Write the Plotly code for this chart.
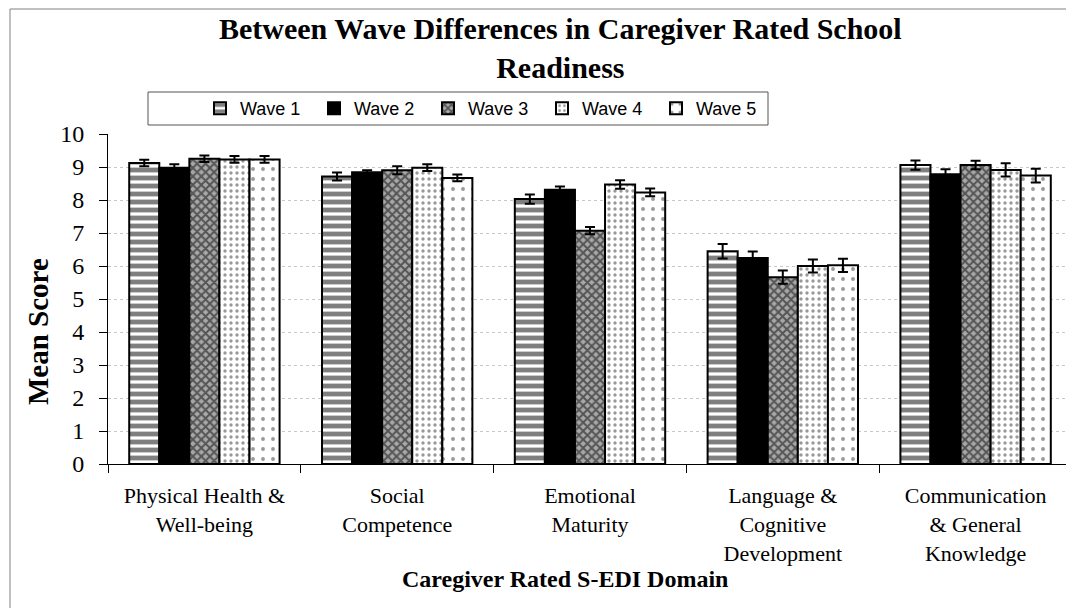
import plotly.graph_objects as go

categories = [
    "Physical Health &<br>Well-being",
    "Social<br>Competence",
    "Emotional<br>Maturity",
    "Language &<br>Cognitive<br>Development",
    "Communication<br>& General<br>Knowledge",
]
wave_names = ["Wave 1", "Wave 2", "Wave 3", "Wave 4", "Wave 5"]

wave1 = [9.12, 8.71, 8.03, 6.45, 9.06]
wave2 = [8.98, 8.84, 8.31, 6.24, 8.78]
wave3 = [9.25, 8.90, 7.07, 5.66, 9.06]
wave4 = [9.23, 8.98, 8.47, 6.00, 8.91]
wave5 = [9.23, 8.67, 8.23, 6.02, 8.74]

err1 = [0.10, 0.12, 0.14, 0.22, 0.14]
err2 = [0.10, 0.06, 0.10, 0.20, 0.15]
err3 = [0.10, 0.12, 0.11, 0.20, 0.13]
err4 = [0.10, 0.10, 0.13, 0.20, 0.20]
err5 = [0.10, 0.10, 0.12, 0.20, 0.21]

values = [wave1, wave2, wave3, wave4, wave5]
errors = [err1, err2, err3, err4, err5]

patterns = [
    dict(shape="-", fgcolor="black", bgcolor="white", size=8, solidity=0.6),
    dict(shape="", fgcolor="black", bgcolor="black"),
    dict(shape="x", fgcolor="black", bgcolor="#a8a8a8", size=6, solidity=0.55),
    dict(shape=".", fgcolor="#333333", bgcolor="white", size=6, solidity=0.25),
    dict(shape=".", fgcolor="#333333", bgcolor="white", size=10, solidity=0.12),
]
fills = ["white", "black", "#a8a8a8", "white", "white"]

fig = go.Figure()
for name, v, e, p, c in zip(wave_names, values, errors, patterns, fills):
    fig.add_trace(go.Bar(
        name=name,
        x=categories,
        y=v,
        marker=dict(color=c, pattern=p, line=dict(color="black", width=2)),
        error_y=dict(type="data", array=e, visible=True, color="black",
                     thickness=2, width=5),
    ))

W, H = 1074, 608
L, R, T, B = 100, 10, 126, 152
pw, ph = W - L - R, H - T - B

def px2x(px):
    return (px - L) / pw

def py2y(py):
    return (H - B - py) / ph

fig.update_layout(
    width=W, height=H,
    margin=dict(l=L, r=R, t=T, b=B),
    paper_bgcolor="white", plot_bgcolor="white",
    barmode="group", bargap=0.22, bargroupgap=0,
    font=dict(family="Liberation Serif", color="black", size=18),
    legend=dict(
        orientation="h",
        x=px2x(192), xanchor="left",
        y=py2y(82), yanchor="top",
        borderwidth=0, bgcolor="rgba(0,0,0,0)",
        font=dict(family="Liberation Sans", size=18, color="black"),
        itemwidth=30,
        entrywidth=69,
        traceorder="normal",
    ),
    showlegend=True,
)

fig.update_xaxes(
    showline=True, linecolor="black", linewidth=1,
    ticks="outside", ticklen=8, tickcolor="black", tickson="boundaries",
    tickfont=dict(family="Liberation Serif", size=22, color="black"),
    ticklabelstandoff=12,
    showgrid=False,
)
fig.update_yaxes(
    range=[0, 10], dtick=1, tick0=0,
    showline=True, linecolor="black", linewidth=1,
    ticks="outside", ticklen=8, tickcolor="black",
    tickfont=dict(family="Liberation Serif", size=24, color="black"),
    ticklabelstandoff=10,
    showgrid=True, gridcolor="#c8c8c8", gridwidth=1, griddash="dot",
    zeroline=False,
)

# Chart title (two lines)
fig.add_annotation(
    text="<b>Between Wave Differences in Caregiver Rated School<br>Readiness</b>",
    xref="paper", yref="paper",
    x=px2x(552), y=py2y(2), xanchor="center", yanchor="top",
    showarrow=False, align="center",
    font=dict(family="Liberation Serif", size=30, color="black"),
)

# Y axis title
fig.add_annotation(
    text="<b>Mean Score</b>",
    xref="paper", yref="paper",
    x=px2x(30), y=0.40, xanchor="center", yanchor="middle",
    textangle=-90, showarrow=False,
    font=dict(family="Liberation Serif", size=29, color="black"),
)

# X axis title
fig.add_annotation(
    text="<b>Caregiver Rated S-EDI Domain</b>",
    xref="paper", yref="paper",
    x=px2x(557), y=py2y(571), xanchor="center", yanchor="middle",
    showarrow=False,
    font=dict(family="Liberation Serif", size=24, color="black"),
)

# Legend box
fig.add_shape(
    type="rect", xref="paper", yref="paper",
    x0=px2x(140), x1=px2x(760), y0=py2y(117), y1=py2y(84),
    line=dict(color="#555555", width=1), fillcolor="rgba(0,0,0,0)",
)

# Outer chart border
fig.add_shape(
    type="rect", xref="paper", yref="paper",
    x0=px2x(2), x1=px2x(1071), y0=py2y(606), y1=py2y(1),
    line=dict(color="#808080", width=1), fillcolor="rgba(0,0,0,0)",
    layer="below",
)

fig.write_html("out.html")
